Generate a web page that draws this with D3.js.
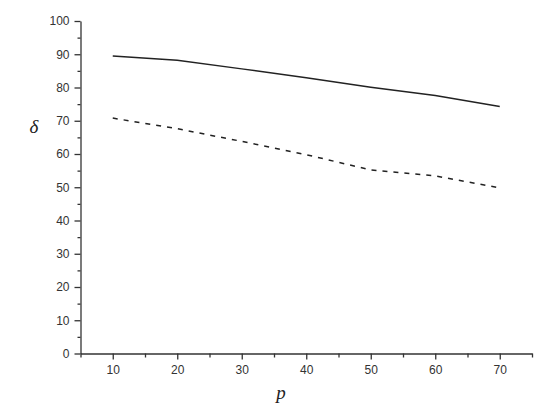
<!DOCTYPE html>
<html>
<head>
<meta charset="utf-8" />
<style>
  body { margin: 0; background: #fff; }
  .tick text { font-family: Arial, "Liberation Sans", sans-serif; font-size: 12px; fill: #333; }
  .axis path, .axis line { stroke: #333; stroke-width: 1.3px; }
</style>
</head>
<body>
<svg width="555" height="412"></svg>
<script src="https://d3js.org/d3.v7.min.js"></script>
<script>
  // values
  var pValues = [10, 20, 30, 40, 50, 60, 70];
  var solidSeries = [89.5, 88.2, 85.6, 82.9, 80.1, 77.6, 74.3];
  var dashedSeries = [70.8, 67.6, 63.8, 59.8, 55.2, 53.4, 49.8];
  var xTicks = [10, 20, 30, 40, 50, 60, 70];
  var yTicks = [0, 10, 20, 30, 40, 50, 60, 70, 80, 90, 100];

  var svg = d3.select("svg");

  var x = d3.scaleLinear().domain([5, 75]).range([80.5, 532]);
  var y = d3.scaleLinear().domain([0, 100]).range([353.5, 21]);

  // minor ticks first, major on top
  var xMinor = d3.range(5, 76, 5).filter(function (d) { return d % 10 !== 0; });
  var yMinor = d3.range(5, 100, 10);

  svg.append("g")
    .attr("class", "axis")
    .attr("transform", "translate(0," + y(0) + ")")
    .call(d3.axisBottom(x).tickValues(xMinor).tickSize(4).tickFormat(""))
    .select(".domain").remove();

  svg.append("g")
    .attr("class", "axis")
    .attr("transform", "translate(" + x(5) + ",0)")
    .call(d3.axisLeft(y).tickValues(yMinor).tickSize(3).tickFormat(""))
    .select(".domain").remove();

  svg.append("g")
    .attr("class", "axis")
    .attr("transform", "translate(0," + y(0) + ")")
    .call(d3.axisBottom(x).tickValues(xTicks).tickSize(6).tickSizeOuter(0).tickPadding(6));

  svg.append("g")
    .attr("class", "axis")
    .attr("transform", "translate(" + x(5) + ",0)")
    .call(d3.axisLeft(y).tickValues(yTicks).tickSize(6).tickSizeOuter(0).tickPadding(5));

  var line = d3.line()
    .x(function (d, i) { return x(pValues[i]); })
    .y(function (d) { return y(d); });

  svg.append("path")
    .datum(solidSeries)
    .attr("fill", "none")
    .attr("stroke", "#222")
    .attr("stroke-width", 1.5)
    .attr("d", line);

  svg.append("path")
    .datum(dashedSeries)
    .attr("fill", "none")
    .attr("stroke", "#222")
    .attr("stroke-width", 1.5)
    .attr("stroke-dasharray", "5,6")
    .attr("d", line);

  // axis titles
  svg.append("text")
    .attr("x", 34)
    .attr("y", 133)
    .attr("text-anchor", "middle")
    .attr("font-family", "'Liberation Serif', 'DejaVu Serif', serif")
    .attr("font-style", "italic")
    .attr("font-size", "19px")
    .attr("fill", "#222")
    .text("δ");

  svg.append("text")
    .attr("x", 281)
    .attr("y", 399)
    .attr("text-anchor", "middle")
    .attr("font-family", "'Liberation Serif', 'DejaVu Serif', serif")
    .attr("font-style", "italic")
    .attr("font-size", "19px")
    .attr("fill", "#222")
    .text("p");
</script>
</body>
</html>
